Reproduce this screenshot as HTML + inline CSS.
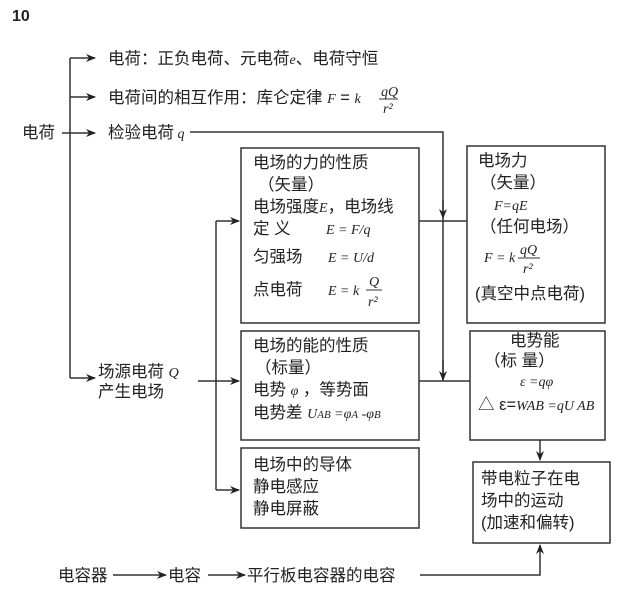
<!DOCTYPE html>
<html><head><meta charset="utf-8"><style>
html,body{margin:0;padding:0;background:#fff;}
svg{display:block;}
text{font-family:"Liberation Sans","Noto Sans CJK SC",sans-serif;font-size:16.5px;fill:#222;}
.m{font-family:"Liberation Serif",serif;font-style:italic;font-size:14px;}
.s{font-family:"Liberation Serif",serif;font-style:italic;font-size:11px;}
</style></head><body>
<svg width="640" height="589" viewBox="0 0 640 589" xmlns="http://www.w3.org/2000/svg">
<defs><marker id="a" markerWidth="10" markerHeight="8" refX="9" refY="4" orient="auto" markerUnits="userSpaceOnUse"><path d="M0,0 L10,4 L0,8 L3,4 Z" fill="#222"/></marker></defs>
<g stroke="#333" stroke-width="1.5" fill="none">
<rect x="241" y="148" width="178" height="175"/>
<rect x="241" y="331" width="178" height="109"/>
<rect x="241" y="448" width="178" height="80"/>
<rect x="467" y="146" width="138" height="177"/>
<rect x="470" y="331" width="135" height="109"/>
<rect x="473" y="462" width="137" height="81"/>
<path d="M70 58 V378"/>
<path d="M70 58 H95" marker-end="url(#a)"/>
<path d="M70 97 H95" marker-end="url(#a)"/>
<path d="M62 133 H95" marker-end="url(#a)"/>
<path d="M70 378 H95" marker-end="url(#a)"/>
<path d="M190 132 H443 V381"/>
<path d="M443 200 V218" marker-end="url(#a)"/>
<path d="M443 360 V380" marker-end="url(#a)"/>
<path d="M419 221 H467"/>
<path d="M419 381 H470"/>
<path d="M198 381 H239" marker-end="url(#a)"/>
<path d="M216 221 V490"/>
<path d="M216 221 H239" marker-end="url(#a)"/>
<path d="M216 490 H239" marker-end="url(#a)"/>
<path d="M540 440 V460" marker-end="url(#a)"/>
<path d="M420 575 H540 V545" marker-end="url(#a)"/>
<path d="M113 575 H166" marker-end="url(#a)"/>
<path d="M208 575 H245" marker-end="url(#a)"/>
</g>
<text x="12" y="21" style="font-weight:bold;font-size:16px">10</text>
<text x="108" y="64">电荷：正负电荷、元电荷<tspan class="m">e</tspan>、电荷守恒</text>
<text x="108" y="103">电荷间的相互作用：库仑定律 <tspan class="m">F</tspan> = <tspan class="m">k</tspan></text>
<text x="381" y="96" class="m">qQ</text><path d="M379 99 H398" stroke="#333"/><text x="383" y="113" class="m">r²</text>
<text x="22" y="138">电荷</text>
<text x="108" y="138">检验电荷<tspan class="m"> q</tspan></text>
<text x="98" y="377">场源电荷 <tspan class="m">Q</tspan></text>
<text x="98" y="397">产生电场</text>
<text x="253" y="168">电场的力的性质</text>
<text x="258" y="190">（矢量）</text>
<text x="253" y="212">电场强度<tspan class="m">E</tspan>，电场线</text>
<text x="253" y="234">定 义</text><text x="326" y="234" class="m">E = F/q</text>
<text x="253" y="262">匀强场</text><text x="328" y="262" class="m">E = U/d</text>
<text x="253" y="295">点电荷</text><text x="328" y="295" class="m">E = k</text>
<text x="369" y="286" class="m">Q</text><path d="M366 290 H382" stroke="#333"/><text x="368" y="306" class="m">r²</text>
<text x="253" y="351">电场的能的性质</text>
<text x="255" y="373">（标量）</text>
<text x="253" y="395">电势 <tspan class="m">φ</tspan> ，等势面</text>
<text x="253" y="418">电势差 <tspan class="m">U<tspan class="s">AB</tspan> =φ<tspan class="s">A</tspan> -φ<tspan class="s">B</tspan></tspan></text>
<text x="253" y="470">电场中的导体</text>
<text x="253" y="492">静电感应</text>
<text x="253" y="514">静电屏蔽</text>
<text x="478" y="166">电场力</text>
<text x="480" y="188">（矢量）</text>
<text x="494" y="210" class="m">F=qE</text>
<text x="480" y="232">（任何电场）</text>
<text x="484" y="262" class="m">F = k</text>
<text x="520" y="254" class="m">qQ</text><path d="M518 258 H540" stroke="#333"/><text x="523" y="273" class="m">r²</text>
<text x="475" y="299">(真空中点电荷)</text>
<text x="510" y="346">电势能</text>
<text x="484" y="366">（标  量）</text>
<text x="520" y="386" class="m">ε =qφ</text>
<text x="478" y="410">△ ε=<tspan class="m">WAB =qU AB</tspan></text>
<text x="481" y="484">带电粒子在电</text>
<text x="481" y="506">场中的运动</text>
<text x="481" y="528">(加速和偏转)</text>
<text x="58" y="581">电容器</text>
<text x="168" y="581">电容</text>
<text x="247" y="581">平行板电容器的电容</text>
</svg>
</body></html>
